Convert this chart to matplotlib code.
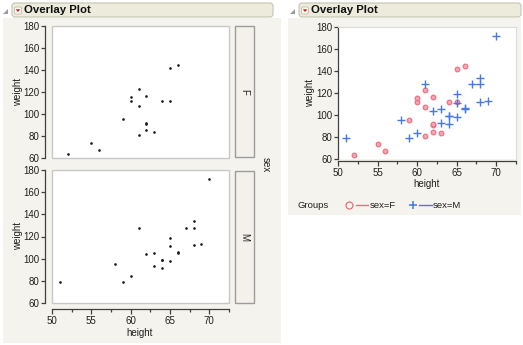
import matplotlib
matplotlib.use('Agg')
import matplotlib.pyplot as plt
from matplotlib.patches import FancyBboxPatch, Rectangle, Polygon

# ---- data (Big Class: height vs weight by sex) ----
f_height = [52, 55, 56, 59, 60, 60, 61, 61, 61, 62, 62, 62, 62, 63, 64, 65, 65, 66]
f_weight = [64, 74, 67, 95, 112, 115, 123, 107, 81, 116, 91, 92, 85, 84, 112, 112, 142, 145]
m_height = [51, 58, 59, 60, 61, 62, 63, 63, 64, 64, 64, 65, 65, 65, 66, 66, 67, 68, 68, 68, 69, 70]
m_weight = [79, 95, 79, 84, 128, 104, 105, 93, 99, 99, 92, 98, 119, 111, 105, 106, 128, 134, 128, 112, 113, 172]
y_ticks = [60, 80, 100, 120, 140, 160, 180]
x_ticks = [50, 55, 60, 65, 70]
x_minor = [52.5, 57.5, 62.5, 67.5, 72.5]
groups = ['F', 'M']

W, H = 523, 345
plt.rcParams['font.family'] = ['Liberation Sans', 'DejaVu Sans']
fig = plt.figure(figsize=(W / 100, H / 100), dpi=100)
fig.patch.set_facecolor('white')

bg = fig.add_axes([0, 0, 1, 1], zorder=-1)
bg.set_xlim(0, W)
bg.set_ylim(H, 0)
bg.axis('off')

PANEL = '#f5f3ed'
TXT = '#202020'
AX = '#404040'
FRAME = '#c8c8c8'
PX = 0.72  # points per pixel at 100 dpi

# panels
bg.add_patch(Rectangle((3, 18), 278, 325, fc=PANEL, ec='none'))
bg.add_patch(Rectangle((288, 18), 233, 197, fc=PANEL, ec='none'))


def title_bar(x0, x1):
    bg.add_patch(FancyBboxPatch((x0, 3), x1 - x0, 14,
                                boxstyle='round,pad=0,rounding_size=3',
                                fc='#ecebdc', ec='#c6c4b2', lw=0.8))
    bg.add_patch(Polygon([(x0 - 9, 14), (x0 - 4, 9), (x0 - 4, 14)],
                         closed=True, fc='#9a9a9a', ec='none'))
    bg.add_patch(FancyBboxPatch((x0 + 2.5, 7), 7, 7,
                                boxstyle='round,pad=0,rounding_size=1.5',
                                fc='#fbfaf4', ec='#c0bead', lw=0.6))
    bg.add_patch(Polygon([(x0 + 3.8, 9.3), (x0 + 8.2, 9.3), (x0 + 6, 12)],
                         closed=True, fc='#e01010', ec='none'))
    bg.text(x0 + 12, 10.3, 'Overlay Plot', fontsize=8.2, fontweight='bold',
            color='#111111', ha='left', va='center')


title_bar(12, 273)
title_bar(299, 521)


def pax(x0, y0, x1, y1):
    return fig.add_axes([x0 / W, 1 - y1 / H, (x1 - x0) / W, (y1 - y0) / H])


def style_axis(ax, show_x, off_left, off_bottom, frame_on):
    ax.set_ylim(60, 180)
    ax.set_xlim(50, 72.5)
    ax.set_yticks(y_ticks)
    ax.set_xticks(x_ticks)
    ax.set_xticks(x_minor, minor=True)
    ax.set_facecolor('white')
    for s in ['top', 'right']:
        ax.spines[s].set_visible(False)
    ax.spines['left'].set_position(('outward', off_left * PX))
    ax.spines['left'].set_color(AX)
    ax.spines['left'].set_linewidth(0.9)
    if show_x:
        ax.spines['bottom'].set_position(('outward', off_bottom * PX))
        ax.spines['bottom'].set_color(AX)
        ax.spines['bottom'].set_linewidth(0.9)
    else:
        ax.spines['bottom'].set_visible(False)
    ax.tick_params(axis='y', length=4 * PX, width=0.9, color=AX, labelsize=7,
                   pad=1.2, labelcolor=TXT)
    if show_x:
        ax.tick_params(axis='x', which='major', length=4.5 * PX, width=0.9,
                       color=AX, labelsize=7, pad=1.5, labelcolor=TXT)
        ax.tick_params(axis='x', which='minor', length=3 * PX, width=0.9, color=AX)
    else:
        ax.tick_params(axis='x', which='both', length=0, labelbottom=False)
    if frame_on:
        ax.add_patch(Rectangle((0, 0), 1, 1, transform=ax.transAxes, fill=False,
                               ec=FRAME, lw=1.0, clip_on=False, zorder=5))


# ---- left: faceted plots ----
top = pax(52, 26, 229, 158)
style_axis(top, False, 7, 0, True)
top.plot(f_height, f_weight, 'o', ms=1.9, color='#1a1a1a', mew=0)

bot = pax(52, 170, 229, 303)
style_axis(bot, True, 7, 6, True)
bot.plot(m_height, m_weight, 'o', ms=1.9, color='#1a1a1a', mew=0)

bg.text(18, 92, 'weight', rotation=90, fontsize=7, color=TXT, ha='center', va='center')
bg.text(18, 236, 'weight', rotation=90, fontsize=7, color=TXT, ha='center', va='center')
bg.text(140, 333, 'height', fontsize=7, color=TXT, ha='center', va='center')

# strips
for (y0, y1), g in zip([(26, 157), (171, 303)], groups):
    bg.add_patch(Rectangle((235, y0), 19, y1 - y0, fc='#f3f1ea', ec='#9c9c9c', lw=1.0))
    bg.text(244.5, (y0 + y1) / 2, g, rotation=-90, fontsize=7, color=TXT,
            ha='center', va='center')
bg.text(266, 165, 'sex', rotation=-90, fontsize=7, color=TXT, ha='center', va='center')

# ---- right: overlay plot ----
F_FC, F_EC = '#f5a5b0', '#ec6d80'
M_C = '#4579e6'
ov = pax(338, 27, 516, 159)
style_axis(ov, True, 0, 2, False)
for s in ['top', 'right']:
    ov.spines[s].set_visible(True)
    ov.spines[s].set_color('#dcdcdc')
    ov.spines[s].set_position(('outward', 0))
ov.plot(f_height, f_weight, 'o', ms=3.4, mfc=F_FC, mec=F_EC, mew=0.8, ls='none')
ov.plot(m_height, m_weight, '+', ms=5.5, color=M_C, mew=1.0, ls='none')

bg.text(310, 93, 'weight', rotation=90, fontsize=7, color=TXT, ha='center', va='center')
bg.text(427, 184, 'height', fontsize=7, color=TXT, ha='center', va='center')

# legend
ly = 205
bg.text(298, ly, 'Groups', fontsize=6.8, color=TXT, ha='left', va='center')
bg.plot([349.3], [ly], 'o', ms=5, mfc='none', mec=F_EC, mew=0.9)
bg.plot([356, 368], [ly, ly], '-', color=F_EC, lw=1.0)
bg.text(370, ly, 'sex=F', fontsize=6.8, color=TXT, ha='left', va='center')
bg.plot([413.3], [ly], '+', ms=6, color=M_C, mew=1.1)
bg.plot([419, 432], [ly, ly], '-', color=M_C, lw=1.0)
bg.text(433, ly, 'sex=M', fontsize=6.8, color=TXT, ha='left', va='center')

fig.savefig('out.png', dpi=100, facecolor=fig.get_facecolor())
